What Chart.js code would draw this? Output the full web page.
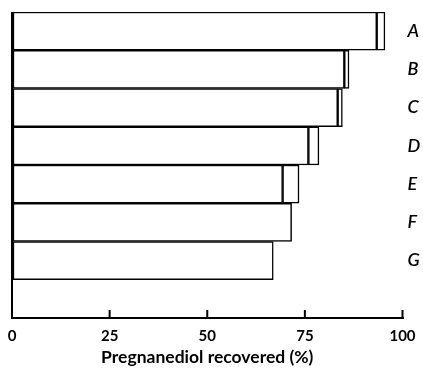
<!DOCTYPE html>
<html>
<head>
<meta charset="utf-8">
<script src="https://cdn.jsdelivr.net/npm/chart.js@4.4.0/dist/chart.umd.min.js"></script>
<style>
  html, body { margin: 0; padding: 0; background: #fff; }
  #wrap { width: 423px; height: 368px; position: relative; }
</style>
</head>
<body>
<div id="wrap"><canvas id="myChart"></canvas></div>
<script>
// Datos
const categorias = ['A', 'B', 'C', 'D', 'E', 'F', 'G'];
const primeraMarca = [93.4, 85.1, 83.4, 75.9, 69.3, 71.6, 66.9];   // linea interior
const totalRecuperado = [95.5, 86.3, 84.6, 78.6, 73.5, null, null];  // extremo de la barra
const ticksX = [0, 25, 50, 75, 100];

Chart.defaults.font.family = 'Lato, "Open Sans", sans-serif';
Chart.defaults.color = '#000';

// resto hasta el total (null si no hay segunda parte)
const resto = totalRecuperado.map((t, i) => t === null ? null : +(t - primeraMarca[i]).toFixed(2));

// marcas del eje x hacia dentro
const ticksHaciaDentro = {
    id: 'ticksHaciaDentro',
    afterDraw(chart) {
        const x = chart.scales.x;
        const ctx = chart.ctx;
        ctx.save();
        ctx.strokeStyle = '#000';
        ctx.lineWidth = 2;
        ticksX.forEach(v => {
            const px = x.getPixelForValue(v);
            ctx.beginPath();
            ctx.moveTo(px, x.top);
            ctx.lineTo(px, x.top - 8);
            ctx.stroke();
        });
        ctx.restore();
    }
};

const data = {
    labels: [...categorias, ''],
    datasets: [{
        label: 'primera',
        data: primeraMarca,
        backgroundColor: '#fff',
        borderColor: '#000',
        borderWidth: 1.5,
        borderSkipped: false,
        barPercentage: 1,
        categoryPercentage: 1
    }, {
        label: 'resto',
        data: resto,
        backgroundColor: '#fff',
        borderColor: '#000',
        borderWidth: 1.5,
        borderSkipped: false,
        barPercentage: 1,
        categoryPercentage: 1
    }]
};

const config = {
    type: 'bar',
    data: data,
    plugins: [ticksHaciaDentro],
    options: {
        indexAxis: 'y',
        responsive: true,
        maintainAspectRatio: false,
        animation: false,
        layout: {
            padding: { left: 12, top: 12, right: 0, bottom: 0 }
        },
        plugins: {
            legend: { display: false },
            tooltip: { enabled: false }
        },
        scales: {
            x: {
                stacked: true,
                min: 0,
                max: 100,
                afterBuildTicks(scale) {
                    scale.ticks = ticksX.map(v => ({ value: v }));
                },
                afterFit(scale) {
                    scale.height = 50;
                    scale.paddingLeft = 0;
                    scale.paddingRight = 0;
                },
                border: { display: true, color: '#000', width: 2 },
                grid: {
                    drawTicks: false,
                    lineWidth: 2,
                    color: c => (c.tick && c.tick.value === 0) ? '#000' : 'rgba(0,0,0,0)'
                },
                ticks: {
                    padding: 11,
                    maxRotation: 0,
                    font: { size: 15, weight: 'bold', lineHeight: 1 }
                },
                title: {
                    display: true,
                    text: 'Pregnanediol recovered (%)',
                    padding: { top: 4, bottom: 2 },
                    font: { size: 17.5, weight: 'bold', lineHeight: 1 }
                }
            },
            y: {
                stacked: true,
                position: 'right',
                border: { display: false },
                grid: { display: false, drawTicks: false },
                afterFit(scale) {
                    scale.width = 20.5;
                    scale.paddingTop = 0;
                    scale.paddingBottom = 0;
                },
                ticks: {
                    padding: 5,
                    font: { size: 18, style: 'italic', weight: '600' }
                }
            }
        }
    }
};

new Chart(document.getElementById('myChart'), config);
</script>
</body>
</html>
